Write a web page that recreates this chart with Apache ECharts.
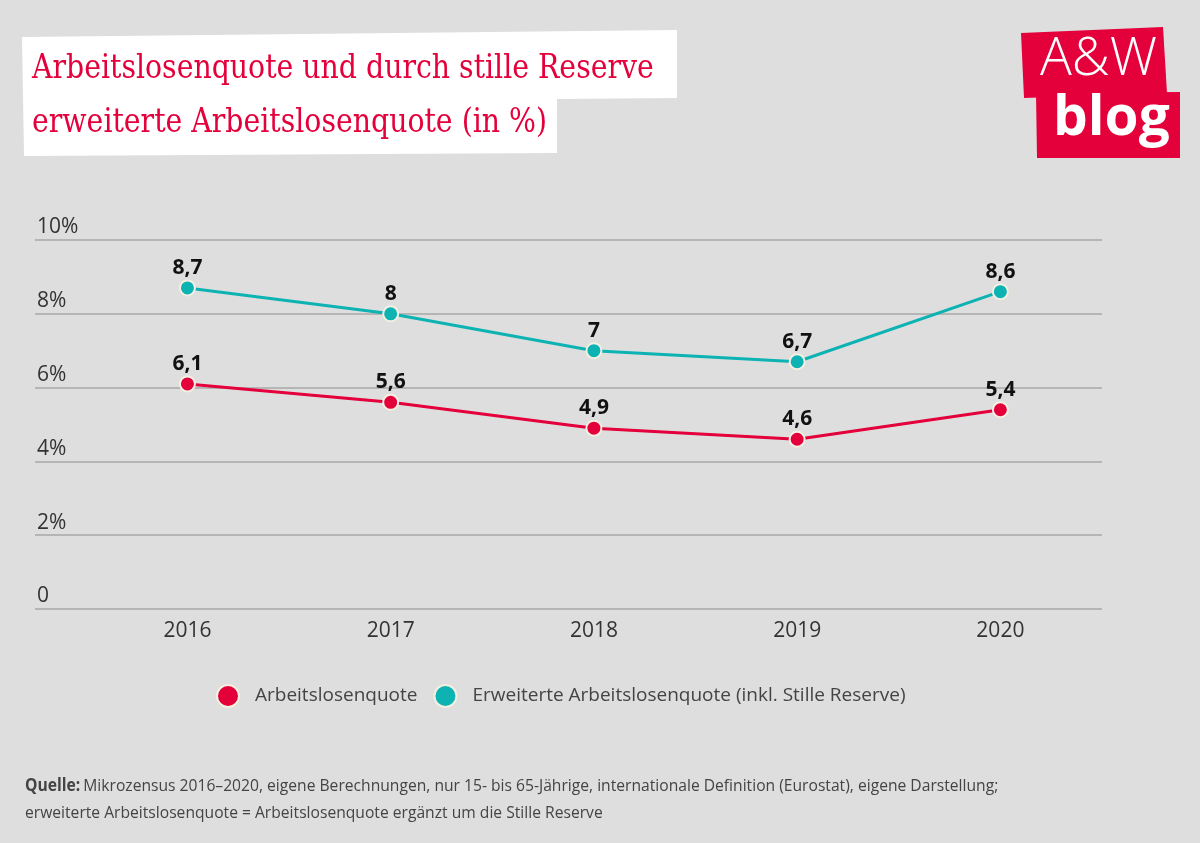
<!DOCTYPE html>
<html><head><meta charset="utf-8">
<script src="https://cdn.jsdelivr.net/npm/echarts@6/dist/echarts.min.js"></script>
<style>html,body{margin:0;padding:0;background:#dedede}#c{width:1200px;height:843px}</style>
</head><body><div id="c"></div>
<script>
const years = [2016, 2017, 2018, 2019, 2020];
const quote = [6.1, 5.6, 4.9, 4.6, 5.4];
const erweitert = [8.7, 8.0, 7.0, 6.7, 8.6];
const yTicks = [0, 2, 4, 6, 8, 10];
const seriesNames = ['Arbeitslosenquote', 'Erweiterte Arbeitslosenquote (inkl. Stille Reserve)'];
const titleLines = ['Arbeitslosenquote und durch stille Reserve', 'erweiterte Arbeitslosenquote (in %)'];
const noteLine1 = 'Mikrozensus 2016–2020, eigene Berechnungen, nur 15- bis 65-Jährige, internationale Definition (Eurostat), eigene Darstellung;';
const noteLine2 = 'erweiterte Arbeitslosenquote = Arbeitslosenquote ergänzt um die Stille Reserve';

const RED = '#e4003b', TEAL = '#0db3b3';
const chart = echarts.init(document.getElementById('c'));
const fmt = v => String(v).replace('.', ',');
function mk(name, vals, color) {
  return {
    name, type: 'line', data: years.map((y, i) => [y, vals[i]]),
    symbol: 'circle', symbolSize: 15, lineStyle: {color, width: 3}, z: 3,
    itemStyle: {color, borderColor: '#f3f0e2', borderWidth: 2},
    label: {show: true, position: 'top', distance: 1, color: '#111', fontFamily: 'Open Sans', fontWeight: 'bold', fontSize: 21,
      formatter: p => fmt(p.value[1])}
  };
}
const titleFont = '34px "DejaVu Serif Condensed", "DejaVu Serif", serif';
chart.setOption({
  backgroundColor: '#dedede',
  animation: false,
  grid: {left: 35, right: 98, top: 240, bottom: 234},
  xAxis: {type: 'value', min: 2015.25, max: 2020.5, splitLine: {show: false},
    axisLine: {show: false}, axisTick: {show: false},
    axisLabel: {customValues: years, color: '#333', fontFamily: 'Open Sans', fontSize: 21, margin: 12, formatter: v => String(v)}},
  yAxis: {type: 'value', min: 0, max: 10, interval: 2,
    axisLine: {show: false}, axisTick: {show: false},
    splitLine: {lineStyle: {color: '#b5b5b5', width: 2}},
    axisLabel: {inside: true, margin: 2, verticalAlign: 'bottom', padding: [0, 0, 2, 0], color: '#333', fontFamily: 'Open Sans', fontSize: 21,
      formatter: v => yTicks.includes(v) ? (v === 0 ? '0' : v + '%') : ''}},
  legend: {bottom: 130, left: 211, icon: 'circle', itemWidth: 22, itemHeight: 22, itemGap: 16,
    textStyle: {color: '#444', fontFamily: 'Open Sans', fontSize: 19, padding: [0, 0, 0, 11]}, data: seriesNames},
  series: [mk(seriesNames[0], quote, RED), mk(seriesNames[1], erweitert, TEAL)],
  graphic: [
    {type: 'polygon', shape: {points: [[22, 37], [677, 30], [677, 98], [557, 99], [557, 153], [24, 156]]}, style: {fill: '#fff'}},
    {type: 'text', x: 32, y: 52, scaleX: 0.927, style: {text: titleLines[0], fill: RED, font: titleFont}},
    {type: 'text', x: 32, y: 106, scaleX: 0.927, style: {text: titleLines[1], fill: RED, font: titleFont}},
    {type: 'polygon', shape: {points: [[1021, 33], [1163, 27], [1167, 93], [1024, 98]]}, style: {fill: RED}},
    {type: 'polygon', shape: {points: [[1036, 93], [1180, 92], [1180, 158], [1037, 158]]}, style: {fill: RED}},
    {type: 'text', left: 1040, top: 33, style: {text: 'A&W', fill: '#fff', font: '300 53px "Open Sans", sans-serif'}},
    {type: 'text', left: 1053, top: 92, style: {text: 'blog', fill: '#fff', font: 'bold 55px "Open Sans", sans-serif'}},
    {type: 'text', x: 25, y: 778, scaleX: 0.92, style: {rich: {b: {fontWeight: 'bold', fontSize: 17, fontFamily: 'Open Sans', fill: '#444'}, n: {fontSize: 17, fontFamily: 'Open Sans', fill: '#444'}}, text: '{b|Quelle:} {n|' + noteLine1 + '}'}},
    {type: 'text', x: 25, y: 805, scaleX: 0.92, style: {text: noteLine2, fill: '#444', font: '17px "Open Sans"'}}
  ]
});
</script></body></html>
